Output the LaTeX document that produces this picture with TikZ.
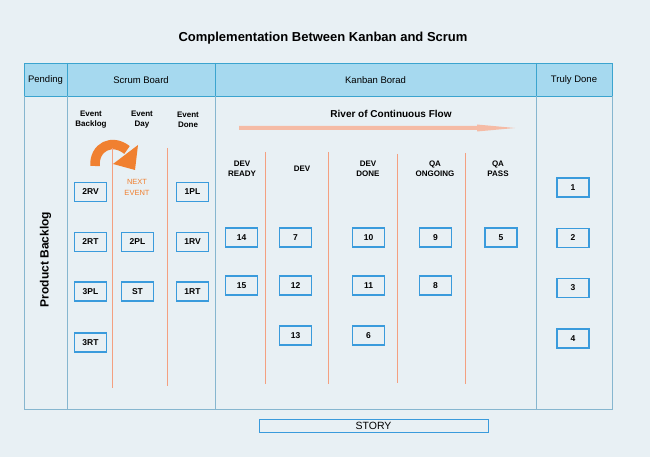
\documentclass[tikz,border=0pt]{standalone}
\usepackage{fontspec}
\setmainfont{Liberation Sans}
\usetikzlibrary{arrows.meta}
\definecolor{bgc}{HTML}{E8F0F4}
\definecolor{hdrfill}{HTML}{A6D9EF}
\definecolor{hdrline}{HTML}{3BA4CF}
\definecolor{bodyline}{HTML}{86B6CF}
\definecolor{cardline}{HTML}{3A9BDC}
\definecolor{divline}{HTML}{F4A080}
\definecolor{nextc}{HTML}{F08030}
\definecolor{riverc}{HTML}{F5BBA5}
\tikzset{
  card/.style={draw=cardline, line width=1.2pt, fill=bgc, minimum width=32pt, minimum height=19pt, inner sep=0pt, font=\fontsize{8.5}{9}\selectfont\bfseries},
  hdr/.style={font=\fontsize{9.5}{11}\selectfont},
  colhdr/.style={font=\fontsize{8}{10}\selectfont\bfseries, align=center},
  divider/.style={draw=divline, line width=0.9pt},
}
\begin{document}
\begin{tikzpicture}[x=1pt,y=-1pt]
\useasboundingbox (0,0) rectangle (650,457);
\fill[bgc] (0,0) rectangle (650,457);
% title
\node[font=\fontsize{13}{15}\selectfont\bfseries] (title) at (323,38) {Complementation Between Kanban and Scrum};
% header row
\fill[hdrfill] (24,63) rectangle (612,96);
\draw[hdrline, line width=0.9pt] (24,63) rectangle (612,96);
\draw[hdrline, line width=0.9pt] (67,63) -- (67,96) (215,63) -- (215,96) (536,63) -- (536,96);
% body
\draw[bodyline, line width=0.9pt] (24,96) -- (24,409) -- (612,409) -- (612,96);
\draw[bodyline, line width=0.9pt] (67,96) -- (67,409) (215,96) -- (215,409) (536,96) -- (536,409);
% header texts
\node[hdr] (hPend) at (45.5,80) {Pending};
\node[hdr] (hScrum) at (141,80) {Scrum Board};
\node[hdr] (hKan) at (375.5,80) {Kanban Borad};
\node[hdr] (hTruly) at (574,80) {Truly Done};
% product backlog
\node[font=\fontsize{12}{14}\selectfont\bfseries, rotate=90] (pb) at (45.5,259.5) {Product Backlog};
% scrum sub headers
\node[colhdr] (eB) at (91,119.5) {Event\\Backlog};
\node[colhdr] (eD) at (142,119.5) {Event\\Day};
\node[colhdr] (eDn) at (188,119.5) {Event\\Done};
% curved arrow
\draw[nextc, line width=9.5pt] (95,166) .. controls (94,147) and (112,138) .. (127,150);
\fill[nextc] (113,164) -- (138,145) -- (135,170) -- cycle;
% dividers scrum
\draw[divider] (112,148) -- (112,388);
\draw[divider] (167,148) -- (167,386);
\node[text=nextc, font=\fontsize{7.5}{10.5}\selectfont, align=center] (next) at (137,187.5) {NEXT\\EVENT};
% river
\node[font=\fontsize{10}{12}\selectfont\bfseries] (river) at (391,114) {River of Continuous Flow};
\fill[riverc] (239,126) -- (477,126) -- (477,124.5) -- (515,128) -- (477,131.5) -- (477,130) -- (239,130) -- cycle;
% kanban column headers
\node[colhdr] (cDR) at (242,168.5) {DEV\\READY};
\node[colhdr] (cDev) at (302,168.5) {DEV};
\node[colhdr] (cDD) at (368,168.5) {DEV\\DONE};
\node[colhdr] (cQO) at (435,168.5) {QA\\ONGOING};
\node[colhdr] (cQP) at (498,168.5) {QA\\PASS};
% kanban dividers
\draw[divider] (265,152) -- (265,384);
\draw[divider] (328,152) -- (328,384);
\draw[divider] (397,154) -- (397,383);
\draw[divider] (465,153) -- (465,384);
% scrum cards
\node[card] (c2RV) at (90.5,192) {2RV};
\node[card] (c1PL) at (192.5,192) {1PL};
\node[card] (c2RT) at (90.5,242) {2RT};
\node[card] (c2PL) at (137.5,242) {2PL};
\node[card] (c1RV) at (192.5,242) {1RV};
\node[card] (c3PL) at (90.5,291.5) {3PL};
\node[card] (cST) at (137.5,291.5) {ST};
\node[card] (c1RT) at (192.5,291.5) {1RT};
\node[card] (c3RT) at (90.5,342.5) {3RT};
% kanban cards
\node[card] (k14) at (241.5,237.5) {14};
\node[card] (k15) at (241.5,285.5) {15};
\node[card] (k7) at (295.5,237.5) {7};
\node[card] (k12) at (295.5,285.5) {12};
\node[card] (k13) at (295.5,335.5) {13};
\node[card] (k10) at (368.5,237.5) {10};
\node[card] (k11) at (368.5,285.5) {11};
\node[card] (k6) at (368.5,335.5) {6};
\node[card] (k9) at (435.5,237.5) {9};
\node[card] (k8) at (435.5,285.5) {8};
\node[card] (k5) at (501,237.5) {5};
% truly done
\node[card] (t1) at (573,187.5) {1};
\node[card] (t2) at (573,238) {2};
\node[card] (t3) at (573,288) {3};
\node[card] (t4) at (573,338.5) {4};
% story
\node[draw=cardline, line width=1pt, minimum width=229pt, minimum height=13pt, inner sep=0pt, font=\fontsize{10.5}{11}\selectfont] (story) at (373.5,425.5) {STORY};
\end{tikzpicture}
\end{document}
